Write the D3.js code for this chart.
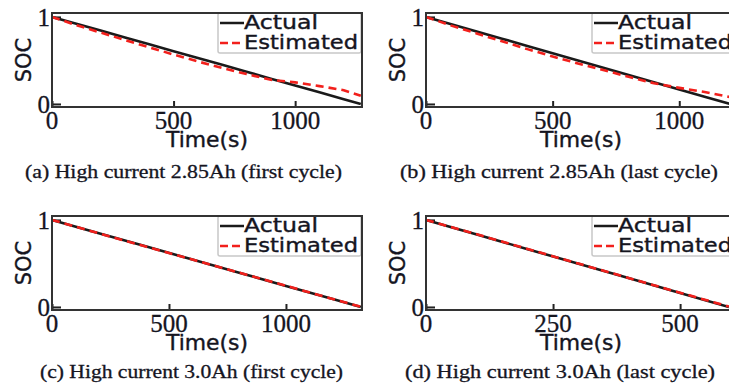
<!DOCTYPE html>
<html>
<head>
<meta charset="utf-8">
<script src="https://cdn.jsdelivr.net/npm/d3@7"></script>
<style>
  body { margin: 0; background: #fff; }
  svg { display: block; }
</style>
</head>
<body>
<div id="my_dataviz"></div>
<script>
// values
var captions = [
  "(a) High current 2.85Ah (first cycle)",
  "(b) High current 2.85Ah (last cycle)",
  "(c) High current 3.0Ah (first cycle)",
  "(d) High current 3.0Ah (last cycle)"
];
var xMax = [1275, 1224, 1325, 610];
var xTicks = [[0, 500, 1000], [0, 500, 1000], [0, 500, 1000], [0, 250, 500]];
var yTicks = [0, 1];
var legendLabels = ["Actual", "Estimated"];

var timeA = [0, 100, 200, 300, 400, 500, 600, 700, 800, 900, 1000, 1100, 1200, 1270];
var actualA = [1, 0.921, 0.843, 0.764, 0.685, 0.606, 0.528, 0.449, 0.370, 0.291, 0.213, 0.134, 0.055, 0];
var estA = [1, 0.905, 0.820, 0.735, 0.650, 0.568, 0.488, 0.413, 0.343, 0.278, 0.248, 0.205, 0.158, 0.095];

var timeB = [0, 100, 200, 300, 400, 500, 600, 700, 800, 900, 1000, 1100, 1200];
var actualB = [1, 0.917, 0.833, 0.750, 0.667, 0.583, 0.500, 0.417, 0.333, 0.250, 0.167, 0.083, 0];
var estB = [1, 0.900, 0.810, 0.720, 0.630, 0.545, 0.465, 0.390, 0.312, 0.238, 0.185, 0.138, 0.080];

var timeC = [0, 200, 400, 600, 800, 1000, 1200, 1320];
var actualC = [1, 0.848, 0.697, 0.545, 0.394, 0.242, 0.091, 0];
var estC = [1, 0.846, 0.695, 0.545, 0.395, 0.243, 0.092, 0.002];

var timeD = [0, 100, 200, 300, 400, 500, 596];
var actualD = [1, 0.832, 0.664, 0.497, 0.329, 0.161, 0];
var estD = [1, 0.835, 0.666, 0.498, 0.331, 0.163, 0.005];

var times = [timeA, timeB, timeC, timeD];
var actuals = [actualA, actualB, actualC, actualD];
var estimates = [estA, estB, estC, estD];

// layout of the four panels (plot box) and their captions
var panels = [
  {left: 52,  top: 13,  capX: 183.5, capY: 178, capW: 317},
  {left: 426, top: 13,  capX: 559,   capY: 178, capW: 318},
  {left: 52,  top: 216, capX: 191.5, capY: 378, capW: 303},
  {left: 426, top: 216, capX: 560,   capY: 378, capW: 310}
];
var boxW = 310, boxH = 94;

var serif = "'Liberation Serif', 'DejaVu Serif', serif";
var sans = "'DejaVu Sans', sans-serif";
var ink = "#15151f";

var svg = d3.select("#my_dataviz")
  .append("svg")
    .attr("width", 729)
    .attr("height", 387);

svg.append("rect")
  .attr("width", 729)
  .attr("height", 387)
  .attr("fill", "#fff");

panels.forEach(function(p, i) {
  var g = svg.append("g")
    .attr("transform", "translate(" + p.left + "," + p.top + ")");

  var x = d3.scaleLinear()
    .domain([0, xMax[i]])
    .range([0, boxW]);

  var y = d3.scaleLinear()
    .domain([-0.035, 1.045])
    .range([boxH, 0]);

  // ticks pointing inward
  g.append("g")
    .attr("transform", "translate(0," + boxH + ")")
    .call(d3.axisTop(x).tickValues(xTicks[i]).tickSize(6).tickFormat(""))
    .call(function(a) {
      a.select(".domain").remove();
      a.selectAll("line").attr("stroke", "#222").attr("stroke-width", 2);
    });

  g.append("g")
    .call(d3.axisRight(y).tickValues(yTicks).tickSize(9).tickFormat(""))
    .call(function(a) {
      a.select(".domain").remove();
      a.selectAll("line").attr("stroke", "#222").attr("stroke-width", 2);
    });

  // tick labels
  g.selectAll(".xlab")
    .data(xTicks[i])
    .enter().append("text")
      .attr("x", function(d) { return x(d); })
      .attr("y", boxH + 22)
      .attr("text-anchor", "middle")
      .style("font-family", serif)
      .style("font-size", "25px")
      .style("fill", ink)
      .style("stroke", ink)
      .style("stroke-width", 0.3)
      .text(function(d) { return d; });

  g.selectAll(".ylab")
    .data(yTicks)
    .enter().append("text")
      .attr("x", -2)
      .attr("y", function(d) { return y(d) + 9.5; })
      .attr("text-anchor", "end")
      .style("font-family", serif)
      .style("font-size", "25px")
      .style("fill", ink)
      .style("stroke", ink)
      .style("stroke-width", 0.3)
      .text(function(d) { return d; });

  // axis titles
  g.append("text")
    .attr("x", boxW / 2)
    .attr("y", boxH + 40)
    .attr("text-anchor", "middle")
    .attr("textLength", 82)
    .attr("lengthAdjust", "spacingAndGlyphs")
    .style("font-family", sans)
    .style("font-size", "21px")
    .style("fill", ink)
    .style("stroke", ink)
    .style("stroke-width", 0.4)
    .text("Time(s)");

  g.append("text")
    .attr("transform", "translate(-21," + (boxH / 2) + ") rotate(-90)")
    .attr("text-anchor", "middle")
    .style("font-family", sans)
    .style("font-size", "21px")
    .style("fill", ink)
    .style("stroke", ink)
    .style("stroke-width", 0.4)
    .text("SOC");

  // data lines
  var line = d3.line()
    .x(function(d) { return x(d[0]); })
    .y(function(d) { return y(d[1]); });

  g.append("path")
    .datum(d3.zip(times[i], actuals[i]))
    .attr("d", line)
    .attr("fill", "none")
    .attr("stroke", "#1a1a1a")
    .attr("stroke-width", 2.6);

  g.append("path")
    .datum(d3.zip(times[i], estimates[i]))
    .attr("d", line)
    .attr("fill", "none")
    .attr("stroke", "#f2201c")
    .attr("stroke-width", 2.6)
    .attr("stroke-dasharray", "8,5");

  // legend
  var lg = g.append("g")
    .attr("transform", "translate(166,0)");

  lg.append("rect")
    .attr("width", 143)
    .attr("height", 40)
    .attr("rx", 2)
    .attr("fill", "#fff")
    .attr("fill-opacity", 0.85)
    .attr("stroke", "#c8c8c8")
    .attr("stroke-width", 1.5);

  lg.selectAll(".key")
    .data(legendLabels)
    .enter().append("line")
      .attr("x1", 2)
      .attr("x2", 26)
      .attr("y1", function(d, k) { return 10 + k * 20; })
      .attr("y2", function(d, k) { return 10 + k * 20; })
      .attr("stroke", function(d, k) { return k ? "#f2201c" : "#1a1a1a"; })
      .attr("stroke-width", 2.5)
      .attr("stroke-dasharray", function(d, k) { return k ? "8,4" : null; });

  lg.selectAll(".keytext")
    .data(legendLabels)
    .enter().append("text")
      .attr("x", 26)
      .attr("y", function(d, k) { return 15.5 + k * 20; })
      .attr("textLength", function(d, k) { return k ? 114 : 74; })
      .attr("lengthAdjust", "spacingAndGlyphs")
      .style("font-family", sans)
      .style("font-size", "20px")
      .style("fill", ink)
      .style("stroke", ink)
      .style("stroke-width", 0.4)
      .text(function(d) { return d; });

  // plot box
  g.append("rect")
    .attr("width", boxW)
    .attr("height", boxH)
    .attr("fill", "none")
    .attr("stroke", "#333")
    .attr("stroke-width", 2);

  // caption
  svg.append("text")
    .attr("x", p.capX)
    .attr("y", p.capY)
    .attr("text-anchor", "middle")
    .attr("textLength", p.capW)
    .attr("lengthAdjust", "spacingAndGlyphs")
    .style("font-family", serif)
    .style("font-size", "18px")
    .style("fill", ink)
    .style("stroke", ink)
    .style("stroke-width", 0.3)
    .text(captions[i]);
});
</script>
</body>
</html>
